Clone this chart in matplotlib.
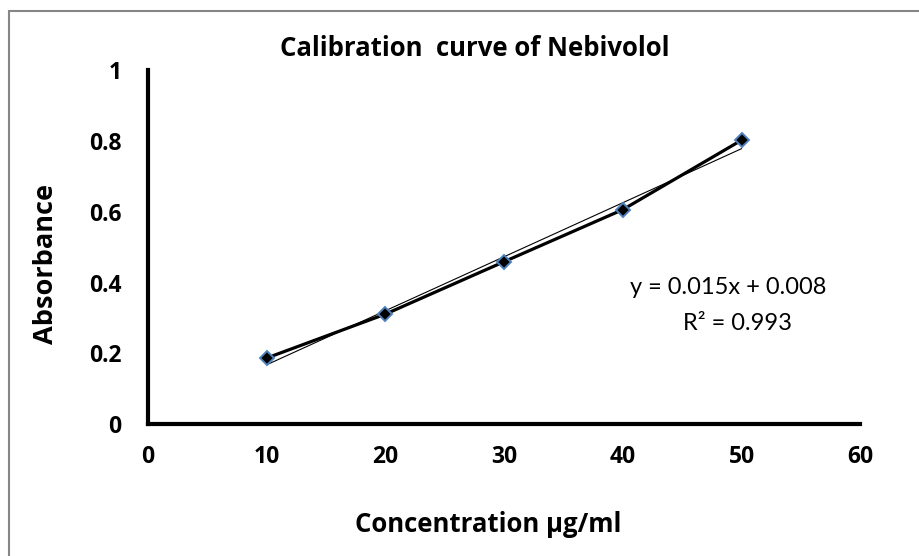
import numpy as np
import matplotlib.pyplot as plt
from matplotlib.patches import Rectangle

conc = [10, 20, 30, 40, 50]
absorb = [0.187, 0.311, 0.459, 0.606, 0.802]
xticks = [0, 10, 20, 30, 40, 50, 60]
yticks = [0, 0.2, 0.4, 0.6, 0.8, 1]
ytick_labels = ["0", "0.2", "0.4", "0.6", "0.8", "1"]

plt.rcParams['font.family'] = ['Open Sans', 'DejaVu Sans']

fig = plt.figure(figsize=(9.2, 5.56), dpi=100)
# outer chart frame (runs off the right/bottom edge)
fig.patches.append(Rectangle((9 / 920, -0.05), 1.1, 1 - 11 / 556 + 0.05,
                             transform=fig.transFigure, fill=False,
                             edgecolor='#868686', linewidth=1.5))
ax = fig.add_axes([0.161, 0.237, 0.774, 0.637])

# linear trendline
slope, icpt = np.polyfit(conc, absorb, 1)
fit_x = np.array([conc[0], conc[-1]])
ax.plot(fit_x, slope * fit_x + icpt, color='black', linewidth=0.8, zorder=2)

ax.plot(conc, absorb, color='black', linewidth=2.3, marker='D', markersize=7.5,
        markerfacecolor='black', markeredgecolor='#4f81bd', markeredgewidth=1.4, zorder=3)

ax.set_xlim(0, 60)
ax.set_ylim(0, 1)
ax.set_xticks(xticks)
ax.set_yticks(yticks)
ax.set_yticklabels(ytick_labels)
ax.tick_params(length=0, labelsize=16.5)
for lab in ax.get_xticklabels() + ax.get_yticklabels():
    lab.set_fontweight('bold')
ax.tick_params(axis='x', pad=15)
ax.tick_params(axis='y', pad=19)

for s in ['top', 'right']:
    ax.spines[s].set_visible(False)
for s in ['left', 'bottom']:
    ax.spines[s].set_linewidth(3)

ax.text(0.815, 0.387, "y = 0.015x + 0.008", transform=ax.transAxes, ha='center',
        va='center', fontsize=17, family=['Lato', 'DejaVu Sans'])
ax.text(0.827, 0.285, "R² = 0.993", transform=ax.transAxes, ha='center',
        va='center', fontsize=17, family=['Lato', 'DejaVu Sans'])

fig.text(0.516, 0.913, "Calibration  curve of Nebivolol", ha='center', va='center',
         fontsize=18.5, fontweight='bold')
fig.text(0.531, 0.057, "Concentration µg/ml", ha='center', va='center',
         fontsize=18.5, fontweight='bold')
fig.text(0.05, 0.525, "Absorbance", ha='center', va='center', rotation=90,
         fontsize=19.5, fontweight='bold')

fig.savefig("out.png", dpi=100)
